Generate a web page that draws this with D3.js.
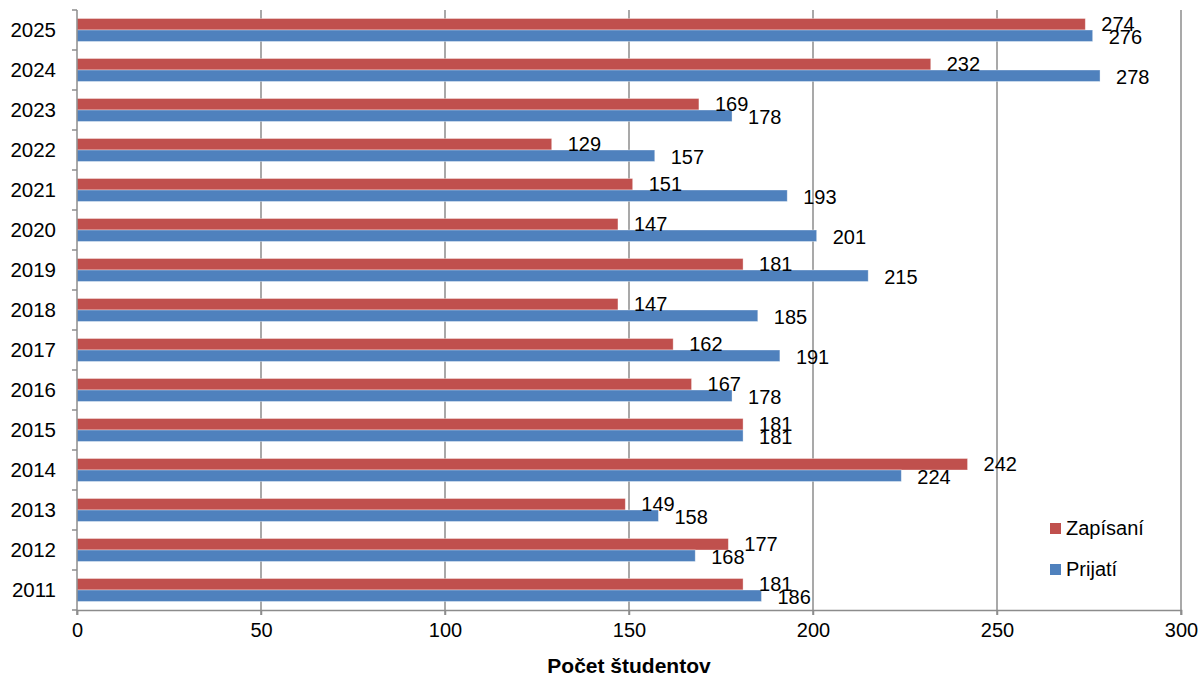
<!DOCTYPE html>
<html>
<head>
<meta charset="utf-8">
<script src="https://cdn.jsdelivr.net/npm/d3@7"></script>
<style>
  html, body { margin: 0; padding: 0; background: #fff; }
  svg { display: block; font-family: "Liberation Sans", Arial, sans-serif; }
</style>
</head>
<body>
<svg id="chart" width="1203" height="677"></svg>
<script>
// Academic years, shown top to bottom
const years = ["2025","2024","2023","2022","2021","2020","2019","2018","2017","2016","2015","2014","2013","2012","2011"];
// Enrolled students per year
const zapisani = [274, 232, 169, 129, 151, 147, 181, 147, 162, 167, 181, 242, 149, 177, 181];
// Admitted students per year
const prijati  = [276, 278, 178, 157, 193, 201, 215, 185, 191, 178, 181, 224, 158, 168, 186];
const xTicks = [0, 50, 100, 150, 200, 250, 300];
const seriesNames = ["Zapísaní", "Prijatí"];
const seriesColors = ["#C0504D", "#4F81BD"];
const xTitle = "Počet študentov";

const svg = d3.select("#chart");
const margin = { left: 77, right: 22, top: 10, bottom: 67 };
const W = 1203, H = 677;
const innerW = W - margin.left - margin.right;
const innerH = H - margin.top - margin.bottom;

const x = d3.scaleLinear().domain([0, 300]).range([0, innerW]);
const y = d3.scaleBand().domain(years).range([0, innerH]).paddingInner(0.425).paddingOuter(0.2125);
const sub = d3.scaleBand().domain(seriesNames).range([0, y.bandwidth()]);

const g = svg.append("g").attr("transform", `translate(${margin.left},${margin.top})`);
const gridColor = "#8c8c8c";

// vertical gridlines (with ticks hanging below the axis)
g.append("g").selectAll("line").data(xTicks.slice(1)).join("line")
  .attr("x1", d => x(d)).attr("x2", d => x(d))
  .attr("y1", 0).attr("y2", innerH + 5)
  .attr("stroke", gridColor).attr("stroke-width", 1.5);

// bars
const rows = years.map((yr, i) => ({ yr, vals: [zapisani[i], prijati[i]] }));
const groups = g.append("g").selectAll("g").data(rows).join("g")
  .attr("transform", d => `translate(0,${y(d.yr)})`);

groups.selectAll("rect").data(d => d.vals.map((v, k) => ({ v, k }))).join("rect")
  .attr("x", 0)
  .attr("y", d => sub(seriesNames[d.k]))
  .attr("width", d => x(d.v))
  .attr("height", sub.bandwidth())
  .attr("fill", d => seriesColors[d.k])
  .attr("stroke", "rgba(255,255,255,0.45)")
  .attr("stroke-width", 0.8);

// value labels
groups.selectAll("text").data(d => d.vals.map((v, k) => ({ v, k }))).join("text")
  .attr("x", d => x(d.v) + 16)
  .attr("y", d => sub(seriesNames[d.k]) + sub.bandwidth() / 2 + 7 + d.k)
  .attr("font-size", 20)
  .attr("fill", "#000")
  .text(d => d.v);

// y axis line and ticks
const yAxisG = g.append("g");
yAxisG.append("line").attr("x1", 0).attr("x2", 0).attr("y1", 0).attr("y2", innerH + 5)
  .attr("stroke", gridColor).attr("stroke-width", 1.5);
const boundaries = d3.range(years.length + 1).map(i => i * innerH / years.length);
yAxisG.selectAll("line.t").data(boundaries).join("line").attr("class", "t")
  .attr("x1", -5).attr("x2", 0).attr("y1", d => d).attr("y2", d => d)
  .attr("stroke", gridColor).attr("stroke-width", 1.5);
yAxisG.selectAll("text").data(years).join("text")
  .attr("x", -21)
  .attr("y", d => y(d) + y.bandwidth() / 2 + 7)
  .attr("text-anchor", "end")
  .attr("font-size", 20.5)
  .text(d => d);

// x axis
const xAxis = d3.axisBottom(x).tickValues(xTicks).tickSize(5).tickPadding(8);
const xg = g.append("g").attr("transform", `translate(0,${innerH})`).call(xAxis);
xg.select(".domain").attr("stroke", gridColor).attr("stroke-width", 1.5);
xg.selectAll(".tick line").attr("stroke", gridColor).attr("stroke-width", 1.5);
xg.selectAll(".tick text").attr("font-size", 20).attr("font-family", "Liberation Sans, Arial, sans-serif").attr("fill", "#000");

// axis title
svg.append("text")
  .attr("x", margin.left + innerW / 2)
  .attr("y", 673)
  .attr("text-anchor", "middle")
  .attr("font-size", 21)
  .attr("font-weight", "bold")
  .text(xTitle);

// legend
const legend = svg.append("g").attr("transform", "translate(1050,523)");
seriesNames.forEach((name, i) => {
  const row = legend.append("g").attr("transform", `translate(0,${i * 41})`);
  row.append("rect").attr("width", 11).attr("height", 11).attr("fill", seriesColors[i]);
  row.append("text").attr("x", 16).attr("y", 12).attr("font-size", 20).text(name);
});
</script>
</body>
</html>
